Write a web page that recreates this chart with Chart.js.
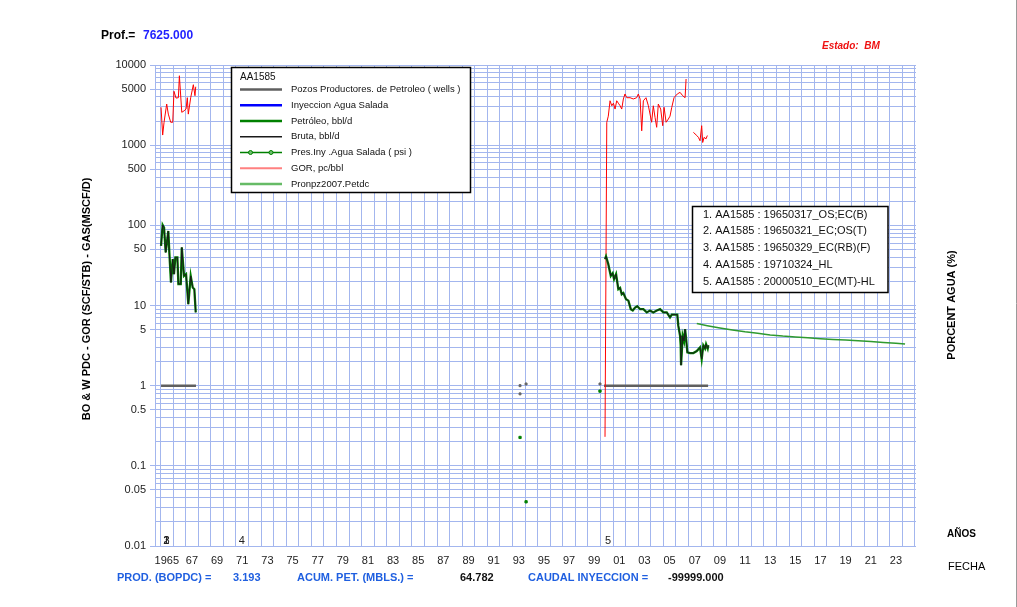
<!DOCTYPE html>
<html>
<head>
<meta charset="utf-8">
<script src="https://cdn.jsdelivr.net/npm/chart.js@4.4.1/dist/chart.umd.min.js"></script>
<style>
  html, body { margin: 0; padding: 0; background: #ffffff; }
  #wrap { position: relative; width: 1017px; height: 607px; }
  canvas { display: block; }
</style>
</head>
<body>
<div id="wrap"><canvas id="c" width="1017" height="607"></canvas></div>
<script>
// ---- Well AA1585 production history (dates in decimal years) ----
const wellName = 'AA1585';

const oilDates = [1965.04, 1965.17, 1965.28, 1965.41, 1965.62, 1965.70, 1965.83, 1965.97, 1966.07, 1966.18,
  1966.34, 1966.42, 1966.61, 1966.69, 1966.87, 1967.03, 1967.21, 1967.40, 1967.56, 1967.69, 1967.80,
  1984.00,
  2000.36, 2000.44, 2000.62, 2000.82, 2000.97, 2001.08, 2001.24, 2001.42, 2001.56, 2001.69, 2001.82,
  2002.03, 2002.22, 2002.41, 2002.57, 2002.75, 2002.93, 2003.15, 2003.41, 2003.68, 2003.94, 2004.20,
  2004.48, 2004.74, 2005.00, 2005.27, 2005.53, 2005.67, 2005.93, 2006.11, 2006.19, 2006.33, 2006.38,
  2006.41, 2006.54, 2006.65, 2006.73, 2006.81, 2006.91, 2007.12, 2007.39, 2007.66, 2007.92, 2008.05,
  2008.18, 2008.32, 2008.40, 2008.53, 2008.58];
const oilRates = [55.5, 101, 94, 46, 85, 46, 19.4, 37.8, 24.6, 39.8,
  39.8, 18.5, 18.5, 53, 23.4, 24.6, 10.4, 23.4, 16.8, 16, 8.2,
  null,
  37.8, 41, 32.8, 23.4, 25.3, 21.3, 24.6, 16, 16.6, 13.8, 14.3,
  12, 11.5, 9, 8.65, 9.4, 9.8, 9, 9, 8.2, 8.65, 8.2,
  8.65, 9, 8.2, 8.2, 7.1, 7.7, 7.7, 7.7, 5.6, 4.2, 3.18,
  1.8, 4.2, 3.6, 5.06, 3.9, 2.6, 2.55, 2.55, 2.7, 3.0, 2.15,
  3.18, 2.9, 3.3, 2.9, 3.19];
// no water produced: gross rate equals oil rate
const grossRates = oilRates.slice();

const gorDates = [1965.04, 1965.17, 1965.28, 1965.49, 1965.62, 1965.81, 1965.97, 1966.07, 1966.23, 1966.42,
  1966.50, 1966.69, 1966.87, 1967.03, 1967.13, 1967.21, 1967.40, 1967.61, 1967.74, 1967.80,
  1984.00,
  2000.36, 2000.50, 2000.62, 2000.76, 2000.90, 2001.03, 2001.16, 2001.29, 2001.42, 2001.56, 2001.69,
  2001.82, 2001.95, 2002.09, 2002.35, 2002.61, 2002.88, 2003.01, 2003.15, 2003.28, 2003.41, 2003.62,
  2003.81, 2004.07, 2004.20, 2004.34, 2004.47, 2004.60, 2004.79, 2004.95, 2005.06, 2005.22, 2005.40,
  2005.53, 2005.67, 2005.85, 2006.11, 2006.33, 2006.54, 2006.73, 2006.81,
  2007.10,
  2007.39, 2007.66, 2007.79, 2007.92, 2008.05, 2008.13, 2008.24, 2008.40, 2008.50];
const gorValues = [2965, 1337, 1930, 3260, 2440, 1930, 1930, 4700, 3870, 3910,
  7350, 2570, 2680, 2820, 3910, 2440, 3910, 5680, 4140, 5360,
  null,
  0.23, 1930, 2300, 3580, 3100, 3340, 2820, 3580, 3340, 3100, 2820,
  3770, 4350, 3910, 3910, 3770, 3910, 4350, 3770, 1510, 3580, 3910,
  3100, 1930, 3100, 2220, 1670, 3260, 2820, 1750, 2965, 1930, 2120,
  2300, 2960, 3910, 4350, 4560, 4140, 3910, 6690,
  null,
  1445, 1320, 1250, 1135, 1750, 1080, 1250, 1200, 1320];

const wellDates = [1965.04, 1967.82, 1984.00, 2000.28, 2008.56];
const wellCounts = [1, 1, null, 1, 1];

const injectionDates = [];
const injectionRates = [];

const pressureDates = [1993.60, 1994.08, 1999.96];
const pressureValues = [0.226, 0.0356, 0.855];

const sparseDates = [1993.60, 1994.08, 1993.60, 1999.96];
const sparseValues = [1.0, 1.05, 0.79, 1.05];

const forecastDates = [2007.66, 2008.50, 2009.50, 2010.50, 2011.50, 2012.50, 2013.50, 2014.50, 2015.50,
  2016.50, 2017.50, 2018.50, 2019.50, 2020.50, 2021.50, 2022.50, 2023.50, 2024.23];
const forecastRates = [5.95, 5.6, 5.25, 4.95, 4.7, 4.5, 4.3, 4.15, 4.05,
  3.95, 3.85, 3.77, 3.7, 3.63, 3.55, 3.45, 3.37, 3.3];

// event markers along the bottom of the plot
const eventDates = [1965.21, 1965.22, 1965.23, 1971.23, 2000.36];
const eventTags = ['1', '2', '3', '4', '5'];
const eventNotes = [
  '1. AA1585 : 19650317_OS;EC(B)',
  '2. AA1585 : 19650321_EC;OS(T)',
  '3. AA1585 : 19650329_EC(RB)(F)',
  '4. AA1585 : 19710324_HL',
  '5. AA1585 : 20000510_EC(MT)-HL'
];

// axis ticks
const yearLabelYears = [1965, 1967, 1969, 1971, 1973, 1975, 1977, 1979, 1981, 1983, 1985, 1987, 1989, 1991,
  1993, 1995, 1997, 1999, 2001, 2003, 2005, 2007, 2009, 2011, 2013, 2015, 2017, 2019, 2021, 2023];
const yearLabels = ['1965', '67', '69', '71', '73', '75', '77', '79', '81', '83', '85', '87', '89', '91',
  '93', '95', '97', '99', '01', '03', '05', '07', '09', '11', '13', '15', '17', '19', '21', '23'];
const yLabelValues = [0.01, 0.05, 0.1, 0.5, 1, 5, 10, 50, 100, 500, 1000, 5000, 10000];
const yLabels = ['0.01', '0.05', '0.1', '0.5', '1', '5', '10', '50', '100', '500', '1000', '5000', '10000'];

// summary figures
const summary = { prod: '3.193', acum: '64.782', caudal: '-99999.000', prof: '7625.000', estado: 'BM' };

// ---- styles ----
const FONT = "'Liberation Sans', Arial, sans-serif";
const GRID = '#a3b6ee';
const X_MIN = 1964.56, X_MAX = 2025.1;

function pts(xs, ys) { return xs.map((x, i) => ({ x: x, y: ys[i] })); }

const seriesWells = { label: 'Pozos Productores. de Petroleo ( wells )', data: pts(wellDates, wellCounts),
  borderColor: '#5f5f5f', borderWidth: 2.5, pointRadius: 0, order: 7 };
const seriesInj = { label: 'Inyeccion Agua Salada', data: pts(injectionDates, injectionRates),
  borderColor: '#0000ff', borderWidth: 2.5, pointRadius: 0, order: 6 };
const seriesOil = { label: 'Petróleo, bbl/d', data: pts(oilDates, oilRates),
  borderColor: '#008000', borderWidth: 2.3, pointRadius: 0, order: 2 };
const seriesGross = { label: 'Bruta, bbl/d', data: pts(oilDates, grossRates),
  borderColor: '#1a1a1a', borderWidth: 1, pointRadius: 0, order: 1 };
const seriesPres = { label: 'Pres.Iny .Agua Salada ( psi )', data: pts(pressureDates, pressureValues),
  borderColor: '#008000', backgroundColor: '#008000', borderWidth: 1, pointRadius: 1.6,
  pointStyle: 'rect', showLine: false, order: 0 };
const seriesGor = { label: 'GOR, pc/bbl', data: pts(gorDates, gorValues),
  borderColor: '#ff0000', borderWidth: 1, pointRadius: 0, order: 4 };
const seriesFcst = { label: 'Pronpz2007.Petdc', data: pts(forecastDates, forecastRates),
  borderColor: '#2f9a2f', borderWidth: 1.5, pointRadius: 0, order: 3 };
const seriesSparse = { label: '', data: pts(sparseDates, sparseValues),
  borderColor: '#666666', backgroundColor: '#666666', pointRadius: 1.4, pointStyle: 'rect',
  showLine: false, order: 0 };

const legendItems = [
  { ds: seriesWells }, { ds: seriesInj }, { ds: seriesOil, width: 2.5 }, { ds: seriesGross },
  { ds: seriesPres, marker: true }, { ds: seriesGor, color: '#ff8080', width: 2 },
  { ds: seriesFcst, color: '#66bb66', width: 2.5 }
];

function txt(ctx, s, x, y, opt) {
  ctx.save();
  ctx.font = opt.font;
  ctx.fillStyle = opt.color || '#000';
  ctx.textAlign = opt.align || 'left';
  ctx.textBaseline = 'middle';
  ctx.fillText(s, x, y);
  ctx.restore();
}

const decorations = {
  id: 'decorations',
  afterDatasetsDraw(chart) {
    const ctx = chart.ctx;
    const xs = chart.scales.x;
    // event numbers along the bottom of the plot
    eventTags.forEach((t, i) => {
      txt(ctx, t, xs.getPixelForValue(eventDates[i]), 541, { font: '11px ' + FONT, color: '#222' });
    });

    // series legend box
    ctx.save();
    ctx.fillStyle = '#fff';
    ctx.fillRect(231.5, 67.5, 239, 125);
    ctx.strokeStyle = '#000';
    ctx.lineWidth = 1.5;
    ctx.strokeRect(231.5, 67.5, 239, 125);
    ctx.restore();
    txt(ctx, wellName, 240, 77.5, { font: '10px ' + FONT, color: '#111' });
    legendItems.forEach((it, i) => {
      const y = 89.5 + i * 15.75;
      ctx.save();
      ctx.strokeStyle = it.color || it.ds.borderColor;
      ctx.lineWidth = it.width || Math.max(it.ds.borderWidth, 1.5);
      ctx.beginPath();
      ctx.moveTo(240, y);
      ctx.lineTo(282, y);
      ctx.stroke();
      if (it.marker) {
        ctx.fillStyle = '#6fbf6f';
        ctx.strokeStyle = '#008000';
        ctx.lineWidth = 1;
        [250.5, 271].forEach(cx => {
          ctx.beginPath();
          ctx.arc(cx, y, 2, 0, Math.PI * 2);
          ctx.fill();
          ctx.stroke();
        });
      }
      ctx.restore();
      txt(ctx, it.ds.label, 291, y, { font: '9.5px ' + FONT, color: '#111' });
    });

    // completion events box
    ctx.save();
    ctx.fillStyle = '#fff';
    ctx.fillRect(692.5, 206.5, 195.5, 86);
    ctx.strokeStyle = '#000';
    ctx.lineWidth = 1.5;
    ctx.strokeRect(692.5, 206.5, 195.5, 86);
    ctx.restore();
    eventNotes.forEach((s, i) => {
      txt(ctx, s, 703, 214.5 + i * 16.8, { font: '11px ' + FONT, color: '#111' });
    });
  },
  afterDraw(chart) {
    const ctx = chart.ctx;
    txt(ctx, 'Prof.=', 101, 35.5, { font: 'bold 12px ' + FONT });
    txt(ctx, summary.prof, 143, 35.5, { font: 'bold 12px ' + FONT, color: '#1f1fff' });
    txt(ctx, 'Estado:  ' + summary.estado, 822, 46, { font: 'italic bold 10px ' + FONT, color: '#ee1111' });

    // axis titles
    ctx.save();
    ctx.translate(87, 299);
    ctx.rotate(-Math.PI / 2);
    txt(ctx, 'BO & W PDC - GOR (SCF/STB) - GAS(MSCF/D)', 0, 0, { font: 'bold 11px ' + FONT, align: 'center' });
    ctx.restore();
    ctx.save();
    ctx.translate(952, 305);
    ctx.rotate(-Math.PI / 2);
    txt(ctx, 'PORCENT AGUA (%)', 0, 0, { font: 'bold 11px ' + FONT, align: 'center' });
    ctx.restore();

    txt(ctx, 'AÑOS', 947, 534, { font: 'bold 10px ' + FONT });
    txt(ctx, 'FECHA', 948, 567, { font: '11px ' + FONT });

    // summary line
    const blue = '#1f5fe0';
    const b = 'bold 11px ' + FONT;
    txt(ctx, 'PROD. (BOPDC) =', 117, 578, { font: b, color: blue });
    txt(ctx, summary.prod, 233, 578, { font: b, color: blue });
    txt(ctx, 'ACUM. PET. (MBLS.) =', 297, 578, { font: b, color: blue });
    txt(ctx, summary.acum, 460, 578, { font: b, color: '#111' });
    txt(ctx, 'CAUDAL INYECCION =', 528, 578, { font: b, color: blue });
    txt(ctx, summary.caudal, 668, 578, { font: b, color: '#111' });

    // page frame edge
    ctx.save();
    ctx.strokeStyle = '#9a9a9a';
    ctx.lineWidth = 1;
    ctx.beginPath();
    ctx.moveTo(1016.5, 0);
    ctx.lineTo(1016.5, 607);
    ctx.stroke();
    ctx.restore();
  }
};

new Chart(document.getElementById('c'), {
  type: 'line',
  data: { datasets: [seriesSparse, seriesPres, seriesGross, seriesOil, seriesFcst, seriesGor, seriesInj, seriesWells] },
  options: {
    responsive: false,
    animation: false,
    parsing: true,
    spanGaps: false,
    layout: { padding: { left: 0, right: 101, top: 65, bottom: 0 } },
    plugins: { legend: { display: false }, tooltip: { enabled: false } },
    elements: { line: { tension: 0 } },
    scales: {
      x: {
        type: 'linear',
        min: X_MIN,
        max: X_MAX,
        afterBuildTicks(scale) {
          const t = [];
          for (let v = Math.ceil(X_MIN * 2) / 2; v <= X_MAX; v += 0.5) t.push({ value: v });
          scale.ticks = t;
        },
        afterFit(scale) { scale.height = 61; },
        grid: {
          color: c => (c.tick && Number.isInteger(c.tick.value)) ? GRID : 'rgba(0,0,0,0)',
          lineWidth: 1,
          drawTicks: false
        },
        border: { display: false },
        ticks: {
          autoSkip: false,
          maxRotation: 0,
          padding: 8,
          color: '#222',
          font: { family: FONT, size: 11 },
          callback: v => {
            const i = yearLabelYears.indexOf(v - 0.5);
            return i >= 0 ? yearLabels[i] : '';
          }
        }
      },
      y: {
        type: 'logarithmic',
        min: 0.01,
        max: 10000,
        afterBuildTicks(scale) {
          const t = [];
          for (let e = -2; e <= 3; e++) {
            for (let m = 1; m <= 9; m++) t.push({ value: parseFloat((m * Math.pow(10, e)).toPrecision(6)) });
          }
          t.push({ value: 10000 });
          scale.ticks = t;
        },
        afterFit(scale) { scale.width = 155; },
        grid: {
          color: GRID,
          lineWidth: 1,
          drawTicks: true,
          tickLength: 5,
          tickColor: c => (c.tick && yLabelValues.some(v => Math.abs(v - c.tick.value) < v * 1e-6)) ? GRID : 'rgba(0,0,0,0)'
        },
        border: { color: GRID },
        ticks: {
          autoSkip: false,
          padding: 4,
          color: '#222',
          font: { family: FONT, size: 11 },
          callback: v => {
            const i = yLabelValues.findIndex(w => Math.abs(w - v) < w * 1e-6);
            return i >= 0 ? yLabels[i] : '';
          }
        }
      }
    }
  },
  plugins: [decorations]
});
</script>
</body>
</html>
